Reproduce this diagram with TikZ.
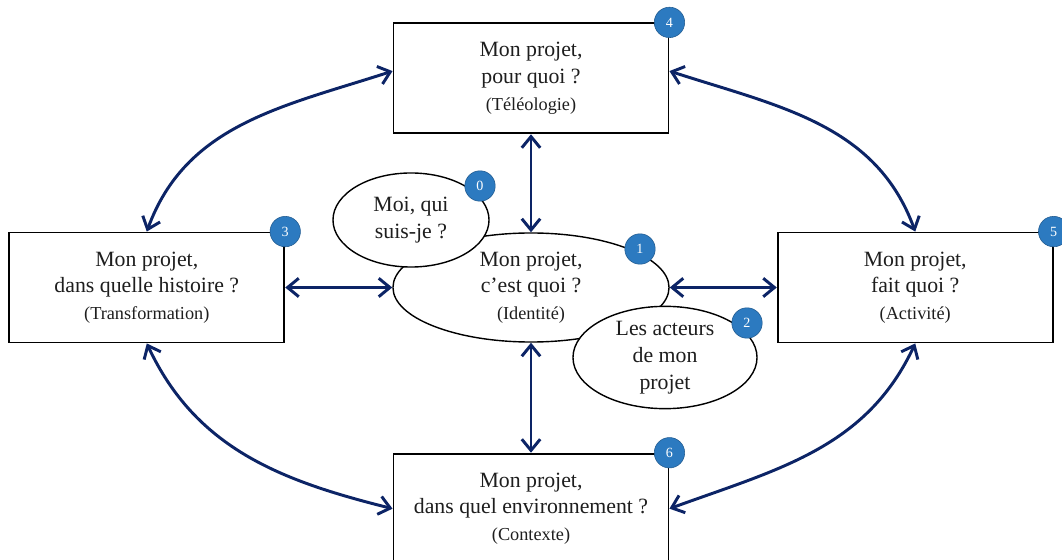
\documentclass[tikz,border=0pt]{standalone}
\usepackage{fontspec}
\setmainfont{Liberation Serif}
\usetikzlibrary{
  shapes.geometric,
  arrows.meta,
  positioning
}
\definecolor{arrowcolor}{RGB}{12, 36, 102}
\definecolor{badgecolor}{RGB}{44, 122, 192}
\definecolor{labelcolor}{RGB}{30, 30, 30}
\newcommand{\subtext}[1]{{\fontsize{13}{16}\selectfont #1}}
\tikzset{
questiontext/.style={
  align=center,
  font=\fontsize{15.5}{19}\selectfont,
  text=labelcolor
},
questionbox/.style={
  draw,
  line width=1.3pt,
  fill=white,
  minimum width=6.875cm,
  minimum height=2.75cm,
  questiontext
},
questionellipse/.style={
  ellipse,
  draw,
  line width=1pt,
  fill=white,
  inner sep=0pt,
  questiontext
},
badge/.style={
  circle,
  fill=badgecolor,
  draw=badgecolor!75!black,
  line width=0.4pt,
  minimum size=0.76cm,
  inner sep=0pt,
  text=white,
  font=\fontsize{10}{12}\selectfont
},
linkarrow/.style={
  {Straight Barb[length=2.8mm,width=4.6mm]}-{Straight Barb[length=2.8mm,width=4.6mm]},
  line width=2.1pt,
  draw=arrowcolor
}
}

\begin{document}
\begin{tikzpicture}[
    x=0.025cm, y=0.025cm,
    node distance=2.45cm and 2.675cm
  ]
    \useasboundingbox (0,0) rectangle (1062,559);

    % Identity at the centre
    \node[questionellipse, minimum width=6.9cm, minimum height=2.725cm] (ident) at (531,271.5)
      {Mon projet,\\c’est quoi~?\\\subtext{(Identité)}};

    % The four questions around it
    \node[questionbox, above=of ident] (telos) {Mon projet,\\pour quoi~?\\\subtext{(Téléologie)}};
    \node[questionbox, left=of ident] (hist) {Mon projet,\\dans quelle histoire~?\\\subtext{(Transformation)}};
    \node[questionbox, right=of ident] (act) {Mon projet,\\fait quoi~?\\\subtext{(Activité)}};
    \node[questionbox, below=2.75cm of ident] (envt) {Mon projet,\\dans quel environnement~?\\\subtext{(Contexte)}};

    % Satellites of the identity
    \node[questionellipse, minimum width=3.9cm, minimum height=2.35cm] (moi) at (411,339) {Moi, qui\\suis-je~?};
    \node[questionellipse, minimum width=4.6cm, minimum height=2.375cm] (actors) at (665,201.5) {Les acteurs\\de mon\\projet};

    % Numbers
    \node[badge] (b0) at (480,373) {0};
    \node[badge] (b1) at (640,310) {1};
    \node[badge] (b2) at (747,236) {2};
    \node[badge] (b3) at (hist.north east) {3};
    \node[badge] (b4) at (telos.north east) {4};
    \node[badge] (b5) at (act.north east) {5};
    \node[badge] (b6) at (envt.north east) {6};

    % Straight links to the centre
    \draw[linkarrow] (telos.south) -- (ident.north);
    \draw[linkarrow] (envt.north) -- (ident.south);
    \draw[linkarrow] (hist.east) -- (ident.west);
    \draw[linkarrow] (act.west) -- (ident.east);

    % Curved links around
    \draw[linkarrow] (hist.north) to[out=70, in=198] (telos.177);
    \draw[linkarrow] (act.north) to[out=110, in=-18] (telos.3);
    \draw[linkarrow] (hist.south) to[out=-65, in=166] (envt.west);
    \draw[linkarrow] (act.south) to[out=-115, in=20] (envt.east);

  \end{tikzpicture}
\end{document}
